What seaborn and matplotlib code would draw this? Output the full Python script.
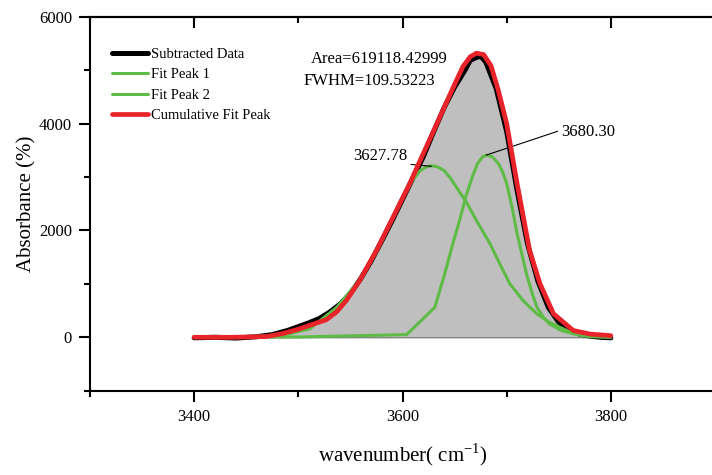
import pandas as pd
import matplotlib
matplotlib.use("Agg")
import matplotlib.pyplot as plt
from matplotlib.ticker import MultipleLocator
from matplotlib.lines import Line2D
import seaborn as sns

# -----------------------------------------------------------
# data
# -----------------------------------------------------------
wn_data = [3400, 3420, 3440, 3460, 3475, 3490, 3500, 3510, 3520, 3530, 3540, 3550, 3560,
           3570, 3580, 3590, 3600, 3610, 3620, 3630, 3640, 3650, 3660, 3665, 3670, 3675,
           3680, 3690, 3700, 3710, 3720, 3730, 3740, 3750, 3760, 3770, 3780, 3790, 3800]
subtracted = [-10, 0, -15, 10, 50, 130, 200, 270, 350, 470, 620, 820, 1100,
              1430, 1800, 2180, 2580, 2980, 3380, 3850, 4300, 4680, 5000, 5180, 5230, 5260,
              5150, 4650, 3850, 2750, 1750, 1050, 560, 280, 130, 60, 20, 0, -10]

wn_cum = [3400, 3440, 3470, 3485, 3500, 3515, 3527, 3537, 3546, 3559, 3575, 3591, 3607,
          3620, 3636, 3649, 3658, 3665, 3671, 3678, 3685, 3692, 3700, 3710, 3722, 3732,
          3745, 3764, 3780, 3800]
cumulative = [0, 0, 15, 70, 150, 250, 330, 480, 688, 1063, 1626, 2251, 2878,
              3440, 4128, 4690, 5066, 5250, 5317, 5290, 5080, 4620, 4000, 2878, 1626, 1002,
              439, 126, 60, 30]

wn_p1 = [3400, 3470, 3490, 3511, 3537, 3560, 3575, 3591, 3600, 3610, 3617, 3622, 3627,
         3633, 3640, 3646, 3652, 3661, 3672, 3684, 3694, 3703, 3716, 3729, 3740, 3751,
         3762, 3773, 3800]
peak1 = [0, 20, 60, 157, 563, 1100, 1600, 2240, 2600, 2950, 3120, 3180, 3210,
         3195, 3120, 2980, 2800, 2540, 2150, 1752, 1350, 1002, 680, 439, 290, 188,
         90, 32, 0]

wn_p2 = [3400, 3500, 3604, 3631, 3640, 3649, 3655, 3661, 3667, 3672, 3677, 3681, 3686,
         3692, 3696, 3700, 3705, 3710, 3719, 3724, 3729, 3735, 3741, 3752, 3764, 3780, 3800]
peak2 = [0, 5, 50, 560, 1150, 1800, 2200, 2650, 3000, 3250, 3380, 3409, 3380,
         3253, 3100, 2878, 2450, 1939, 1189, 850, 563, 380, 251, 130, 64, 10, 0]

area_txt = "Area=619118.42999"
fwhm_txt = "FWHM=109.53223"
centers = [3627.78, 3680.30]
center_heights = [3200, 3409]

df_data = pd.DataFrame({"wn": wn_data, "abs": subtracted})
df_cum = pd.DataFrame({"wn": wn_cum, "abs": cumulative})
df_p1 = pd.DataFrame({"wn": wn_p1, "abs": peak1})
df_p2 = pd.DataFrame({"wn": wn_p2, "abs": peak2})

# -----------------------------------------------------------
# style
# -----------------------------------------------------------
sns.set_style("ticks", {"axes.edgecolor": "black", "xtick.color": "black",
                        "ytick.color": "black", "text.color": "black",
                        "axes.labelcolor": "black"})
plt.rcParams["font.family"] = ["Liberation Serif", "DejaVu Serif"]
plt.rcParams["mathtext.fontset"] = "custom"
plt.rcParams["mathtext.rm"] = "Liberation Serif"

RED = "#e8232a"
GREEN = "#5dbb46"

fig = plt.figure(figsize=(7.12, 4.75), dpi=100)
ax = fig.add_axes([90 / 712, (475 - 390.7) / 475, 625 / 712, (390.7 - 16.7) / 475])

# grey area under the data
ax.fill_between(df_data["wn"], df_data["abs"].clip(lower=0), 0,
                color="#bfbfbf", edgecolor="#707070", linewidth=0.8, zorder=1)

sns.lineplot(data=df_data, x="wn", y="abs", ax=ax, color="black", linewidth=3.6, zorder=2)
sns.lineplot(data=df_p1, x="wn", y="abs", ax=ax, color=GREEN, linewidth=2.2, zorder=3)
sns.lineplot(data=df_p2, x="wn", y="abs", ax=ax, color=GREEN, linewidth=2.2, zorder=3)
sns.lineplot(data=df_cum, x="wn", y="abs", ax=ax, color=RED, linewidth=3.4, zorder=4)

# -----------------------------------------------------------
# axes
# -----------------------------------------------------------
ax.set_xlim(3300, 3900)
ax.set_ylim(-1000, 6000)
ax.xaxis.set_major_locator(MultipleLocator(200))
ax.xaxis.set_minor_locator(MultipleLocator(100))
ax.yaxis.set_major_locator(MultipleLocator(2000))
ax.yaxis.set_minor_locator(MultipleLocator(1000))
ax.tick_params(which="major", direction="out", length=8, width=1.5, labelsize=12, pad=5,
               colors="black")
ax.tick_params(which="minor", direction="out", length=4.5, width=1.5, colors="black")
for s in ax.spines.values():
    s.set_linewidth(1.5)
    s.set_color("black")

top = ax.secondary_xaxis("top")
top.xaxis.set_major_locator(MultipleLocator(200))
top.xaxis.set_minor_locator(MultipleLocator(100))
top.tick_params(which="major", direction="in", length=8, width=1.5, labeltop=False,
                colors="black")
top.tick_params(which="minor", direction="in", length=4.5, width=1.5, colors="black")
top.spines["top"].set_linewidth(1.5)
top.spines["top"].set_color("black")

ax.set_xlabel("wavenumber( cm$^{\\mathregular{-1}}$)", fontsize=15, labelpad=12)
ax.set_ylabel("Absorbance (%)", fontsize=15)
ax.yaxis.set_label_coords(-0.086, 0.5)

# -----------------------------------------------------------
# texts
# -----------------------------------------------------------
ax.text(3578, 5200, area_txt, fontsize=12, ha="center", va="center")
ax.text(3568, 4790, fwhm_txt, fontsize=12, ha="center", va="center")

ax.annotate(f"{centers[0]:.2f}", xy=(centers[0], center_heights[0]), xytext=(3579, 3390),
            fontsize=12, ha="center", va="center",
            arrowprops=dict(arrowstyle="-", color="black", lw=0.8, shrinkA=0, shrinkB=0,
                            relpos=(1.0, 0.0)))
ax.annotate(f"{centers[1]:.2f}", xy=(centers[1], center_heights[1]), xytext=(3778, 3846),
            fontsize=12, ha="center", va="center",
            arrowprops=dict(arrowstyle="-", color="black", lw=0.8, shrinkA=0, shrinkB=0,
                            relpos=(0.0, 0.6)))

handles = [Line2D([], [], color="black", lw=3.6),
           Line2D([], [], color=GREEN, lw=2.2),
           Line2D([], [], color=GREEN, lw=2.2),
           Line2D([], [], color=RED, lw=3.4)]
labels = ["Subtracted Data", "Fit Peak 1", "Fit Peak 2", "Cumulative Fit Peak"]
ax.legend(handles, labels, loc="upper left", bbox_to_anchor=(0.035, 0.917), frameon=False,
          fontsize=10.5, handlelength=2.5, handletextpad=0.15, labelspacing=0.5,
          borderpad=0, borderaxespad=0)

fig.savefig("out.png", dpi=100)
